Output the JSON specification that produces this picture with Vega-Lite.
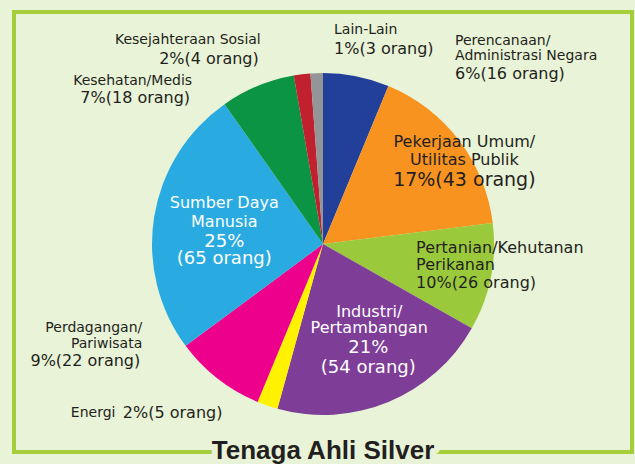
{
  "$schema": "https://vega.github.io/schema/vega-lite/v6.json",
  "width": 618,
  "height": 440,
  "autosize": "none",
  "padding": {"left": 14, "top": 12, "right": 3, "bottom": 12},
  "background": "#e9f3d7",
  "view": {"stroke": "#a4cf3b", "strokeWidth": 4, "fill": "#e9f3d7"},
  "title": {
    "text": "Tenaga Ahli Silver",
    "subtitle": "Tenaga Ahli Silver",
    "orient": "bottom",
    "anchor": "middle",
    "frame": "group",
    "offset": -14,
    "baseline": "top",
    "font": "Liberation Sans",
    "fontSize": 26,
    "fontWeight": "bold",
    "color": "#e9f3d7",
    "subtitleFont": "Liberation Sans",
    "subtitleFontSize": 26,
    "subtitleFontWeight": "bold",
    "subtitleColor": "#231f20",
    "subtitlePadding": -26
  },
  "data": {
    "values": [
      {"i": 0, "cat": "Perencanaan", "n": 16, "name": "Perencanaan/\nAdministrasi Negara", "pct": "6%(16 orang)"},
      {"i": 1, "cat": "Pekerjaan", "n": 43, "name": "Pekerjaan Umum/\nUtilitas Publik", "pct": "17%(43 orang)"},
      {"i": 2, "cat": "Pertanian", "n": 26, "name": "Pertanian/Kehutanan\nPerikanan", "pct": "10%(26 orang)"},
      {"i": 3, "cat": "Industri", "n": 54, "name": "Industri/\nPertambangan", "pct": "21%\n(54 orang)"},
      {"i": 4, "cat": "Energi", "n": 5, "name": "Energi", "pct": "2%(5 orang)"},
      {"i": 5, "cat": "Perdagangan", "n": 22, "name": "Perdagangan/\nPariwisata", "pct": "9%(22 orang)"},
      {"i": 6, "cat": "SDM", "n": 65, "name": "Sumber Daya\nManusia", "pct": "25%\n(65 orang)"},
      {"i": 7, "cat": "Kesehatan", "n": 18, "name": "Kesehatan/Medis", "pct": "7%(18 orang)"},
      {"i": 8, "cat": "Kesejahteraan", "n": 4, "name": "Kesejahteraan Sosial", "pct": "2%(4 orang)"},
      {"i": 9, "cat": "Lain", "n": 3, "name": "Lain-Lain", "pct": "1%(3 orang)"}
    ]
  },
  "encoding": {
    "theta": {"field": "n", "type": "quantitative", "stack": true},
    "order": {"field": "i", "type": "quantitative"},
    "detail": {"field": "cat", "type": "nominal"}
  },
  "layer": [
    {
      "mark": {"type": "arc", "radius": 171, "yOffset": 12},
      "encoding": {
        "color": {
          "field": "cat", "type": "nominal", "legend": null,
          "scale": {
            "domain": ["Perencanaan", "Pekerjaan", "Pertanian", "Industri", "Energi", "Perdagangan", "SDM", "Kesehatan", "Kesejahteraan", "Lain"],
            "range": ["#22409a", "#f7931e", "#9aca3c", "#7e3d97", "#fff200", "#ec008c", "#29abe2", "#0b9444", "#c1202e", "#939598"]
          }
        }
      }
    },
    {"mark": {"type": "text", "radius": 100, "dx": 0, "dy": -13.5, "align": "center", "baseline": "middle", "fontSize": 16, "lineHeight": 19, "lineBreak": "\n", "color": "white"},
     "encoding": {"text": {"condition": {"test": "datum.cat === 'SDM'", "field": "name", "type": "nominal"}, "value": ""}}},
    {"mark": {"type": "text", "radius": 100, "dx": 0, "dy": 25.5, "align": "center", "baseline": "middle", "fontSize": 18, "lineHeight": 17, "lineBreak": "\n", "color": "white"},
     "encoding": {"text": {"condition": {"test": "datum.cat === 'SDM'", "field": "pct", "type": "nominal"}, "value": ""}}},
    {"mark": {"type": "text", "radius": 100, "dx": 8, "dy": -12, "align": "center", "baseline": "middle", "fontSize": 16, "lineHeight": 16, "lineBreak": "\n", "color": "white"},
     "encoding": {"text": {"condition": {"test": "datum.cat === 'Industri'", "field": "name", "type": "nominal"}, "value": ""}}},
    {"mark": {"type": "text", "radius": 100, "dx": 7, "dy": 24, "align": "center", "baseline": "middle", "fontSize": 18, "lineHeight": 20, "lineBreak": "\n", "color": "white"},
     "encoding": {"text": {"condition": {"test": "datum.cat === 'Industri'", "field": "pct", "type": "nominal"}, "value": ""}}},
    {"mark": {"type": "text", "radius": 150, "dx": 22, "dy": 1, "align": "center", "baseline": "middle", "fontSize": 16, "lineHeight": 18, "lineBreak": "\n", "color": "#231f20"},
     "encoding": {"text": {"condition": {"test": "datum.cat === 'Pekerjaan'", "field": "name", "type": "nominal"}, "value": ""}}},
    {"mark": {"type": "text", "radius": 150, "dx": 22, "dy": 39, "align": "center", "baseline": "middle", "fontSize": 19, "color": "#231f20"},
     "encoding": {"text": {"condition": {"test": "datum.cat === 'Pekerjaan'", "field": "pct", "type": "nominal"}, "value": ""}}},
    {"mark": {"type": "text", "radius": 100, "dx": -5, "dy": -3.5, "align": "left", "baseline": "middle", "fontSize": 16, "lineHeight": 17, "lineBreak": "\n", "color": "#231f20"},
     "encoding": {"text": {"condition": {"test": "datum.cat === 'Pertanian'", "field": "name", "type": "nominal"}, "value": ""}}},
    {"mark": {"type": "text", "radius": 100, "dx": -5, "dy": 31.5, "align": "left", "baseline": "middle", "fontSize": 16, "color": "#231f20"},
     "encoding": {"text": {"condition": {"test": "datum.cat === 'Pertanian'", "field": "pct", "type": "nominal"}, "value": ""}}},
    {"mark": {"type": "text", "radius": 190, "dx": 95, "dy": -5, "align": "left", "baseline": "middle", "fontSize": 14, "lineHeight": 15.5, "lineBreak": "\n", "color": "#231f20"},
     "encoding": {"text": {"condition": {"test": "datum.cat === 'Perencanaan'", "field": "name", "type": "nominal"}, "value": ""}}},
    {"mark": {"type": "text", "radius": 190, "dx": 95, "dy": 28.4, "align": "left", "baseline": "middle", "fontSize": 16, "color": "#231f20"},
     "encoding": {"text": {"condition": {"test": "datum.cat === 'Perencanaan'", "field": "pct", "type": "nominal"}, "value": ""}}},
    {"mark": {"type": "text", "radius": 190, "dx": 18, "dy": -12, "align": "left", "baseline": "middle", "fontSize": 14, "color": "#231f20"},
     "encoding": {"text": {"condition": {"test": "datum.cat === 'Lain'", "field": "name", "type": "nominal"}, "value": ""}}},
    {"mark": {"type": "text", "radius": 190, "dx": 18, "dy": 7, "align": "left", "baseline": "middle", "fontSize": 16, "color": "#231f20"},
     "encoding": {"text": {"condition": {"test": "datum.cat === 'Lain'", "field": "pct", "type": "nominal"}, "value": ""}}},
    {"mark": {"type": "text", "radius": 190, "dx": -39, "dy": -3, "align": "right", "baseline": "middle", "fontSize": 14, "color": "#231f20"},
     "encoding": {"text": {"condition": {"test": "datum.cat === 'Kesejahteraan'", "field": "name", "type": "nominal"}, "value": ""}}},
    {"mark": {"type": "text", "radius": 190, "dx": -41, "dy": 16, "align": "right", "baseline": "middle", "fontSize": 16, "color": "#231f20"},
     "encoding": {"text": {"condition": {"test": "datum.cat === 'Kesejahteraan'", "field": "pct", "type": "nominal"}, "value": ""}}},
    {"mark": {"type": "text", "radius": 180, "dx": -62, "dy": 15, "align": "right", "baseline": "middle", "fontSize": 14, "color": "#231f20"},
     "encoding": {"text": {"condition": {"test": "datum.cat === 'Kesehatan'", "field": "name", "type": "nominal"}, "value": ""}}},
    {"mark": {"type": "text", "radius": 180, "dx": -64, "dy": 32.6, "align": "right", "baseline": "middle", "fontSize": 16, "color": "#231f20"},
     "encoding": {"text": {"condition": {"test": "datum.cat === 'Kesehatan'", "field": "pct", "type": "nominal"}, "value": ""}}},
    {"mark": {"type": "text", "radius": 180, "dx": -70, "dy": -45.75, "align": "right", "baseline": "middle", "fontSize": 14, "lineHeight": 15.5, "lineBreak": "\n", "color": "#231f20"},
     "encoding": {"text": {"condition": {"test": "datum.cat === 'Perdagangan'", "field": "name", "type": "nominal"}, "value": ""}}},
    {"mark": {"type": "text", "radius": 180, "dx": -72, "dy": -13, "align": "right", "baseline": "middle", "fontSize": 16, "color": "#231f20"},
     "encoding": {"text": {"condition": {"test": "datum.cat === 'Perdagangan'", "field": "pct", "type": "nominal"}, "value": ""}}},
    {"mark": {"type": "text", "radius": 180, "dx": -149, "dy": 11, "align": "right", "baseline": "middle", "fontSize": 14, "color": "#231f20"},
     "encoding": {"text": {"condition": {"test": "datum.cat === 'Energi'", "field": "name", "type": "nominal"}, "value": ""}}},
    {"mark": {"type": "text", "radius": 180, "dx": -42, "dy": 11, "align": "right", "baseline": "middle", "fontSize": 16, "color": "#231f20"},
     "encoding": {"text": {"condition": {"test": "datum.cat === 'Energi'", "field": "pct", "type": "nominal"}, "value": ""}}}
  ],
  "config": {
    "view": {"stroke": "#a4cf3b", "strokeWidth": 4, "fill": "#e9f3d7"},
    "text": {"font": "DejaVu Sans"},
    "style": {"group-title": {"stroke": "#e9f3d7", "strokeWidth": 12, "strokeJoin": "round"}}
  }
}
